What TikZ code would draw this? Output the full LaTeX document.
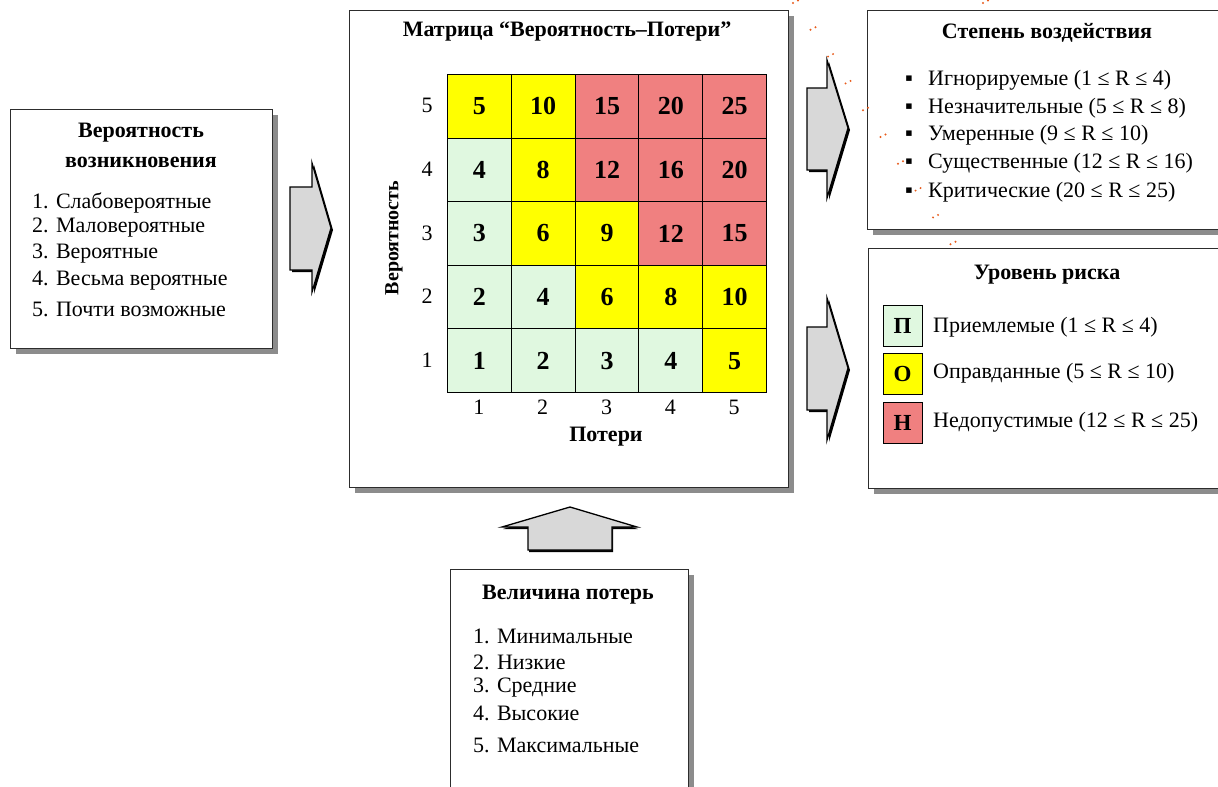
\documentclass[tikz,border=0pt]{standalone}
\usepackage{fontspec}
\setmainfont{Liberation Serif}
\usetikzlibrary{shadows}

\definecolor{lowrisk}{RGB}{224,248,224}
\definecolor{midrisk}{RGB}{255,255,0}
\definecolor{highrisk}{RGB}{240,128,128}
\definecolor{framegray}{RGB}{45,45,45}
\definecolor{shadegray}{RGB}{140,140,140}
\definecolor{arrowfill}{RGB}{216,216,216}
\definecolor{dotorange}{RGB}{232,92,28}

\tikzset{
  panel/.style={draw=framegray, line width=1.4pt, fill=white, anchor=north west, inner sep=0pt,
    drop shadow={shadow xshift=5pt, shadow yshift=-5pt, fill=shadegray, opacity=1}},
  ptitle/.style={font=\fontsize{22}{26}\selectfont\bfseries, inner sep=0pt},
  ptext/.style={font=\fontsize{22}{26}\selectfont, anchor=west, inner sep=0pt},
  cell/.style={draw=black, line width=1pt, minimum width=63.8pt, minimum height=63.6pt,
    inner sep=0pt, anchor=north west, font=\fontsize{26}{30}\selectfont\bfseries},
  axnum/.style={font=\fontsize{22}{26}\selectfont, inner sep=0pt},
  blockarrow/.style={fill=arrowfill, draw=black, line width=1.3pt, line join=miter},
  arrowshade/.style={fill=black},
  keybox/.style={draw=black, line width=1pt, minimum width=39pt, minimum height=41pt,
    inner sep=0pt, font=\fontsize{23}{27}\selectfont\bfseries},
}

\begin{document}
\begin{tikzpicture}[x=1pt, y=-1pt]
\useasboundingbox (0,0) rectangle (1218,787);
\clip (0,0) rectangle (1218,787);

% ---------- panels ----------
\node[panel, minimum width=262pt, minimum height=239pt] (probbox) at (10,109) {};
\node[panel, minimum width=439pt, minimum height=477pt] (matrixbox) at (349,10) {};
\node[panel, minimum width=370pt, minimum height=219pt] (impactbox) at (867,10) {};
\node[panel, minimum width=370pt, minimum height=240pt] (levelbox) at (868,248) {};
\node[panel, minimum width=238pt, minimum height=240pt] (lossbox) at (450,569) {};

% ---------- block arrows ----------
\fill[arrowshade, shift={(2,2)}] (290,187) -- (312,187) -- (312,163) -- (331,228) -- (312,292) -- (312,270) -- (290,270) -- cycle;
\draw[blockarrow] (290,187) -- (312,187) -- (312,163) -- (331,228) -- (312,292) -- (312,270) -- (290,270) -- cycle;

\fill[arrowshade, shift={(2,2)}] (807,88) -- (827,88) -- (827,60) -- (848,128) -- (827,198) -- (827,170) -- (807,170) -- cycle;
\draw[blockarrow] (807,88) -- (827,88) -- (827,60) -- (848,128) -- (827,198) -- (827,170) -- (807,170) -- cycle;

\fill[arrowshade, shift={(2,2)}] (807,327) -- (827,327) -- (827,298) -- (848,368) -- (827,440) -- (827,410) -- (807,410) -- cycle;
\draw[blockarrow] (807,327) -- (827,327) -- (827,298) -- (848,368) -- (827,440) -- (827,410) -- (807,410) -- cycle;

\fill[arrowshade, shift={(1,2)}] (528,550) -- (528,527) -- (502,527) -- (570,507) -- (637,527) -- (612,527) -- (612,550) -- cycle;
\draw[blockarrow] (528,550) -- (528,527) -- (502,527) -- (570,507) -- (637,527) -- (612,527) -- (612,550) -- cycle;

% ---------- probability panel ----------
\node[ptitle] (probtitleA) at (141,133) {Вероятность};
\node[ptitle] (probtitleB) at (141,162) {возникновения};
\node[ptext] (prob1) at (32,203) {1. Слабовероятные};
\node[ptext] (prob2) at (32,228) {2. Маловероятные};
\node[ptext] (prob3) at (32,254) {3. Вероятные};
\node[ptext] (prob4) at (32,281) {4. Весьма вероятные};
\node[ptext] (prob5) at (32,309) {5. Почти возможные};

% ---------- matrix ----------
\node[ptitle] (matrixtitle) at (567,32) {Матрица “Вероятность–Потери”};
\foreach \row/\y in {5/74,4/137.6,3/201.2,2/264.8,1/328.4}{
  \foreach \col/\x in {1/447,2/510.8,3/574.6,4/638.4,5/702.2}{
    \pgfmathtruncatemacro{\val}{\row*\col}
    \ifnum\val<5 \def\cellcol{lowrisk}\else\ifnum\val<11 \def\cellcol{midrisk}\else\def\cellcol{highrisk}\fi\fi
    \node[cell, fill=\cellcol] (cell-\row-\col) at (\x,\y) {\val};
  }
  \node[axnum] (rowlab-\row) at (427,\y+31.8) {\row};
}
\foreach \col/\x in {1/478.9,2/542.7,3/606.5,4/670.3,5/734.1}{
  \node[axnum] (collab-\col) at (\x,407) {\col};
}
\node[ptitle, rotate=90, font=\fontsize{20}{24}\selectfont\bfseries] (probaxis) at (394,238) {Вероятность};
\node[ptitle] (lossaxis) at (606,437) {Потери};

% ---------- impact panel ----------
\node[ptitle] (impacttitle) at (1047,33) {Степень воздействия};
\node[ptext] (imp1) at (905,80)  {\makebox[23pt][l]{▪}Игнорируемые (1 ≤ R ≤ 4)};
\node[ptext] (imp2) at (905,108) {\makebox[23pt][l]{▪}Незначительные (5 ≤ R ≤ 8)};
\node[ptext] (imp3) at (905,135) {\makebox[23pt][l]{▪}Умеренные (9 ≤ R ≤ 10)};
\node[ptext] (imp4) at (905,163) {\makebox[23pt][l]{▪}Существенные (12 ≤ R ≤ 16)};
\node[ptext] (imp5) at (905,192) {\makebox[23pt][l]{▪}Критические (20 ≤ R ≤ 25)};

% ---------- risk level panel ----------
\node[ptitle] (leveltitle) at (1047,275) {Уровень риска};
\node[keybox, fill=lowrisk]  (keyA) at (902.5,325.5) {П};
\node[keybox, fill=midrisk]  (keyB) at (902.5,373.5) {О};
\node[keybox, fill=highrisk] (keyC) at (902.5,422.5) {Н};
\node[ptext] (levA) at (933,327) {Приемлемые (1 ≤ R ≤ 4)};
\node[ptext] (levB) at (933,373) {Оправданные (5 ≤ R ≤ 10)};
\node[ptext] (levC) at (933,422) {Недопустимые (12 ≤ R ≤ 25)};

% ---------- loss panel ----------
\node[ptitle] (losstitle) at (568,595) {Величина потерь};
\node[ptext] (loss1) at (473,636) {1. Минимальные};
\node[ptext] (loss2) at (473,662) {2. Низкие};
\node[ptext] (loss3) at (473,688) {3. Средние};
\node[ptext] (loss4) at (473,713) {4. Высокие};
\node[ptext] (loss5) at (473,745) {5. Максимальные};

% ---------- dotted trail ----------
\foreach \i in {0,...,9}{
  \fill[dotorange] (793+17.5*\i, 3+26.8*\i) circle (1.1pt);
  \fill[dotorange] (798+17.5*\i, 0.5+26.8*\i) circle (1.1pt);
}
\fill[dotorange] (983,3) circle (1.1pt);
\fill[dotorange] (988,0.5) circle (1.1pt);
\end{tikzpicture}
\end{document}
